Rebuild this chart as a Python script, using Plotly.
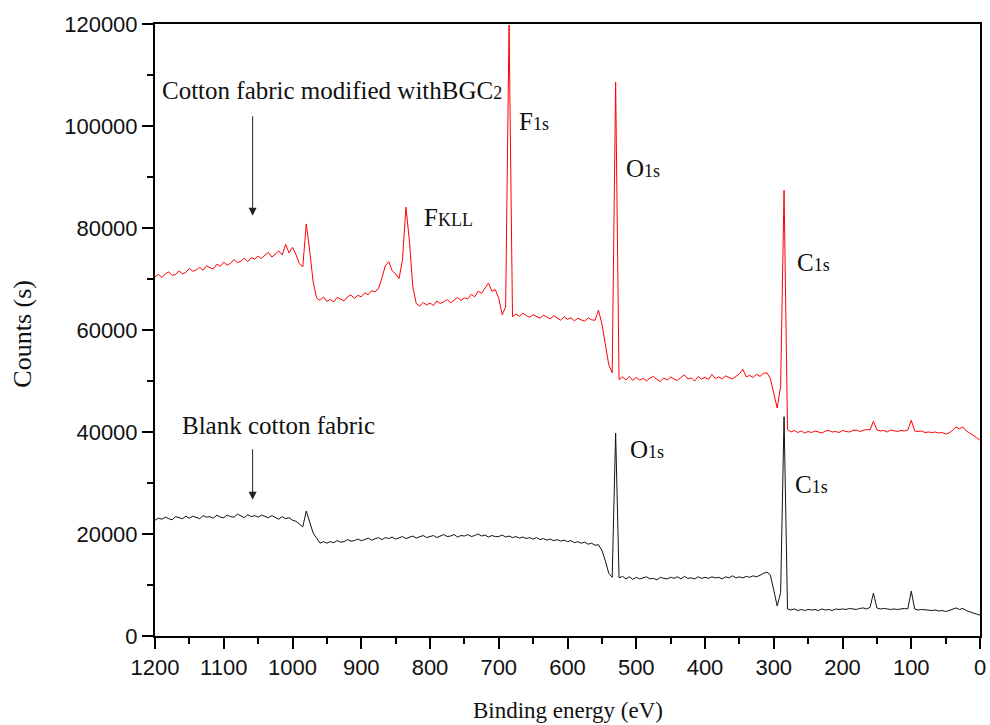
import plotly.graph_objects as go

# Binding-energy grid of the survey scans (eV), 5 eV steps from 1200 down to 0
ENERGY = list(range(1200, -1, -5))

# Cotton fabric modified with BGC2 (counts per second)
modified_counts = [
    70400, 70900, 70300, 71000, 71400, 70700, 70900, 71600, 71000, 71300,
    72100, 71500, 71800, 72300, 71700, 72600, 72200, 72000, 72900, 72500,
    73300, 72700, 73100, 73800, 73200, 73500, 74100, 73400, 74200, 73900,
    74500, 74000, 74700, 75200, 74300, 74900, 75500, 74700, 76800, 75100,
    76200, 74800, 73000, 72400, 80800, 75500, 69500, 66300, 65800, 66500,
    65600, 66000, 65500, 66400, 66100, 65700, 66500, 66900, 66200, 66800,
    66500, 67300, 66900, 67700, 67500, 68100, 70200, 72600, 73400, 71600,
    71000, 70100, 73800, 84100, 77500, 68500, 65200, 64700, 65400, 64900,
    65300, 64800, 65700, 65200, 65500, 66000, 65300, 65800, 66400, 65800,
    66300, 66100, 67000, 66500, 67600, 67200, 68200, 69200, 67600, 67900,
    66200, 63000, 64500, 119800, 62600, 63100, 62700, 63300, 62800, 62500,
    63000, 62600, 62300, 62900, 62500, 62200, 62800, 62400, 61900, 62600,
    62100, 62400, 61800, 62300, 62000, 61700, 62400, 62000, 61900, 63900,
    61200, 57500, 53200, 51600, 108600, 50300, 50800, 50200, 50900, 50100,
    50700, 50200, 50500, 50000, 50600, 50900, 50300, 49900, 50600, 50200,
    50800, 50400, 50100, 50700, 51200, 50400, 50600, 50000, 50900, 50400,
    50700, 50300, 51300, 50500, 50800, 50400, 51000, 50700, 50400, 50900,
    51400, 52300, 50800, 51100, 50700, 51300, 50900, 51500, 51600, 50500,
    47500, 44700, 49000, 87400, 40500, 40000, 40300, 39900, 40200, 39800,
    40100, 39900, 40200, 40000, 39800, 40200, 40300, 40000, 40100, 39900,
    40300, 40100, 40000, 40300, 40400, 40100, 40300, 40500, 40400, 42100,
    40400, 40200, 40300, 40000, 40400, 40200, 40100, 40300, 40200, 40400,
    42300, 40200, 40100, 40200, 39900, 40000, 39900, 40000, 39800, 39900,
    39600, 39800, 40300, 41000, 40600, 41000, 40200, 39800, 39400, 38900,
    38400,
]

# Blank cotton fabric (counts per second)
blank_counts = [
    22700, 23100, 22900, 23300, 23000, 22800, 23400, 23200, 23000, 23500,
    23100, 23500, 23200, 23000, 23600, 23300, 23400, 23100, 23700, 23300,
    23200, 23700, 23400, 23300, 23900, 23500, 23200, 23800, 23400, 23600,
    23300, 23700, 23500, 23200, 23600, 23300, 22900, 23400, 23000, 23200,
    22700, 22500, 22000, 21400, 24500, 22300, 20200, 19200, 18200, 18500,
    18200, 18500, 18300, 18700, 18400, 18500, 18900, 18600, 18700, 19000,
    18700, 18900, 19200, 18800, 19100, 19300, 18900, 19300, 19100, 19400,
    19000, 19300, 19500, 19100, 19400, 19600, 19200, 19400, 19700, 19300,
    19500, 19700, 19300, 19600, 19900, 19500, 19600, 19900, 19400, 19700,
    19600, 19900, 19500, 19700, 20000, 19600, 19800, 19400, 19700, 19500,
    19500, 19800, 19400, 19600, 19300, 19500, 19200, 19400, 19100, 19300,
    19000, 19300, 18900, 19100, 18800, 19000, 18700, 18900, 18600, 18800,
    18500, 18700, 18300, 18500, 18200, 18400, 18000, 18200, 17800, 17900,
    16800, 14800, 12300, 11500, 39800, 11400, 11700, 11200, 11600, 11100,
    11500, 11200, 11400, 11600, 11200, 11300, 11000, 11500, 11300, 11200,
    11500, 11300, 11600, 11200, 11700, 11300, 11400, 11200, 11600, 11300,
    11500, 11300, 11600, 11400, 11500, 11200, 11600, 11400, 11800, 11400,
    11600, 11400, 11700, 11500, 11800, 11600, 11900, 12300, 12500, 12000,
    9000, 5900, 8500, 43000, 5300, 5100, 5300, 5000, 5200, 5000,
    5200, 5100, 5200, 5000, 5300, 5100, 5200, 5000, 5300, 5200,
    5300, 5200, 5400, 5300, 5200, 5400, 5500, 5300, 5600, 8400,
    5500, 5300, 5400, 5300, 5200, 5300, 5200, 5300, 5400, 5300,
    8800, 5300, 5100, 5200, 5100, 5000, 5000, 5100, 4900, 5000,
    4800, 5000, 5200, 5500, 5200, 5400, 5000, 4700, 4500, 4300,
    4100,
]

# Axis ticks
X_TICKS = [1200, 1100, 1000, 900, 800, 700, 600, 500, 400, 300, 200, 100, 0]
Y_TICKS = [0, 20000, 40000, 60000, 80000, 100000, 120000]

SERIF = "Liberation Serif, Times New Roman, serif"
SANS = "Liberation Sans, Arial, sans-serif"

fig = go.Figure()
fig.add_trace(go.Scatter(x=ENERGY, y=blank_counts, mode="lines",
                         line=dict(color="#111111", width=1), showlegend=False))
fig.add_trace(go.Scatter(x=ENERGY, y=modified_counts, mode="lines",
                         line=dict(color="#ff0000", width=1), showlegend=False))

small = '<span style="font-size:18px">{}</span>'

# Peak labels (text, x, y)
labels = [
    ("F" + small.format("1s"), 673, 100800),
    ("F" + small.format("KLL"), 812, 82000),
    ("O" + small.format("1s"), 518, 91600),
    ("C" + small.format("1s"), 269, 73300),
    ("O" + small.format("1s"), 512, 36500),
    ("C" + small.format("1s"), 272, 29800),
]
for txt, lx, ly in labels:
    fig.add_annotation(x=lx, y=ly, text=txt, showarrow=False, xanchor="left",
                       yanchor="middle", font=dict(family=SERIF, size=25, color="#111111"))

# Sample names with arrows
fig.add_annotation(x=942, y=106900, text="Cotton fabric modified withBGC" + small.format("2"),
                   showarrow=False, xanchor="center", yanchor="middle",
                   font=dict(family=SERIF, size=25, color="#111111"))
fig.add_annotation(x=1021, y=41200, text="Blank cotton fabric",
                   showarrow=False, xanchor="center", yanchor="middle",
                   font=dict(family=SERIF, size=25, color="#111111"))
for tip, tail in [(82400, 102200), (26700, 36900)]:
    fig.add_annotation(x=1058, y=tip, ax=1058, ay=tail, axref="x", ayref="y",
                       text="", showarrow=True, arrowhead=2, arrowsize=1.6,
                       arrowwidth=1, arrowcolor="#222222")

# Axis titles
fig.add_annotation(x=0.5, y=-0.121, xref="paper", yref="paper", text="Binding energy (eV)",
                   showarrow=False, xanchor="center", yanchor="middle",
                   font=dict(family=SERIF, size=23, color="#111111"))
fig.add_annotation(x=-0.16, y=0.494, xref="paper", yref="paper", text="Counts (s)",
                   textangle=-90, showarrow=False, xanchor="center", yanchor="middle",
                   font=dict(family=SERIF, size=26, color="#111111"))

axis_common = dict(
    showline=True, linecolor="black", linewidth=2, mirror=True,
    ticks="outside", tickcolor="black", tickwidth=1.5, ticklen=11,
    showgrid=False, zeroline=False, automargin=False,
    tickfont=dict(family=SANS, size=22, color="#111111"),
)

fig.update_xaxes(
    range=[1200, 0], tickvals=X_TICKS,
    minor=dict(ticks="outside", ticklen=6, dtick=50, tickwidth=1.5, tickcolor="black"),
    **axis_common,
)
fig.update_yaxes(
    range=[0, 120000], tickvals=Y_TICKS, tickformat="d",
    minor=dict(ticks="outside", ticklen=6, dtick=10000, tickwidth=1.5, tickcolor="black"),
    **axis_common,
)

fig.update_layout(
    width=990, height=725,
    margin=dict(l=155, r=10, t=24, b=89),
    paper_bgcolor="white", plot_bgcolor="white",
)

fig.write_html("out.html")
